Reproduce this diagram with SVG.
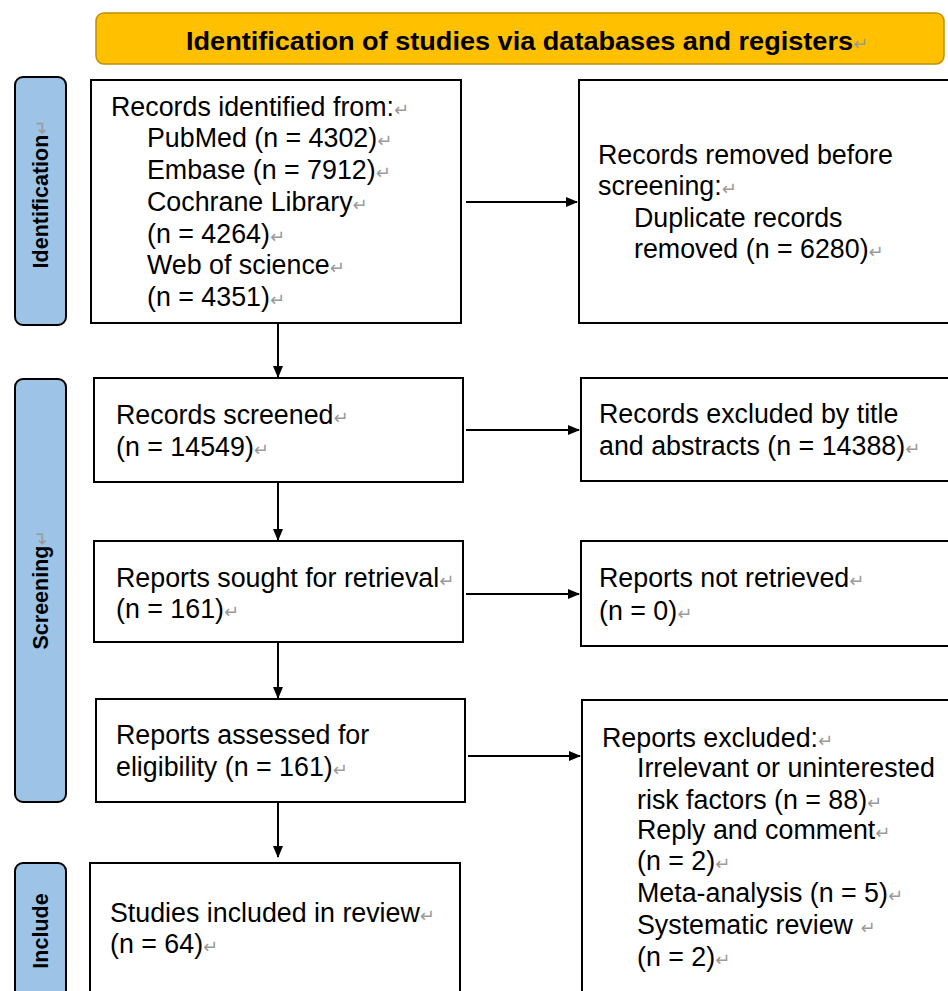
<svg xmlns="http://www.w3.org/2000/svg" width="948" height="991" viewBox="0 0 948 991">
<defs>
<marker id="ah" markerWidth="12" markerHeight="10" refX="11" refY="5" orient="auto" markerUnits="userSpaceOnUse">
<path d="M0,0 L12,5 L0,10 Z" fill="#000"/>
</marker>
<style>
.box{fill:#fff;stroke:#000;stroke-width:2}
.side{fill:#9DC3E6;stroke:#000;stroke-width:2}
.t{font-family:"Liberation Sans",Arial,sans-serif;font-size:26.8px;fill:#000}
.st{font-family:"Liberation Sans",Arial,sans-serif;font-size:21.5px;font-weight:bold;fill:#000}
.ht{font-family:"Liberation Sans",Arial,sans-serif;font-size:26px;font-weight:bold;fill:#000}
.pm{font-family:"DejaVu Sans",sans-serif;font-size:18px;fill:#9a9a9a;font-weight:normal}
.c{stroke:#000;stroke-width:2;fill:none;marker-end:url(#ah)}
</style>
</defs>
<rect width="948" height="991" fill="#fff"/>

<g id="header">
<rect x="96" y="13" width="848" height="51" rx="8" fill="#FFC000" stroke="#BF9000" stroke-width="1.5"/>
<text class="ht" x="186" y="50"><tspan textLength="667" lengthAdjust="spacingAndGlyphs">Identification of studies via databases and registers</tspan><tspan class="pm">↵</tspan></text>
</g>

<g id="side-identification">
<rect class="side" x="15" y="77" width="51" height="248" rx="8"/>
<text class="st" transform="translate(48,194) rotate(-90)" text-anchor="middle">Identification<tspan class="pm">↵</tspan></text>
</g>
<g id="side-screening">
<rect class="side" x="15" y="379" width="51" height="423" rx="8"/>
<text class="st" transform="translate(48,590) rotate(-90)" text-anchor="middle">Screening<tspan class="pm">↵</tspan></text>
</g>
<g id="side-include">
<rect class="side" x="15" y="863" width="51" height="140" rx="8"/>
<text class="st" transform="translate(48,931) rotate(-90)" text-anchor="middle">Include</text>
</g>

<g id="n-identified">
<rect class="box" x="91" y="80" width="370" height="243"/>
<text class="t"><tspan x="111" y="116">Records identified from:<tspan class="pm">↵</tspan></tspan><tspan x="147" y="147">PubMed (n = 4302)<tspan class="pm">↵</tspan></tspan><tspan x="147" y="179">Embase (n = 7912)<tspan class="pm">↵</tspan></tspan><tspan x="147" y="211">Cochrane Library<tspan class="pm">↵</tspan></tspan><tspan x="147" y="243">(n = 4264)<tspan class="pm">↵</tspan></tspan><tspan x="147" y="274">Web of science<tspan class="pm">↵</tspan></tspan><tspan x="147" y="306">(n = 4351)<tspan class="pm">↵</tspan></tspan></text>
</g>

<g id="n-removed">
<rect class="box" x="579" y="80" width="380" height="243"/>
<text class="t"><tspan x="598" y="164">Records removed before</tspan><tspan x="598" y="195">screening:<tspan class="pm">↵</tspan></tspan><tspan x="634" y="227">Duplicate records</tspan><tspan x="634" y="258">removed (n = 6280)<tspan class="pm">↵</tspan></tspan></text>
</g>

<g id="n-screened">
<rect class="box" x="94" y="378" width="369" height="104"/>
<text class="t"><tspan x="116" y="424">Records screened<tspan class="pm">↵</tspan></tspan><tspan x="116" y="456">(n = 14549)<tspan class="pm">↵</tspan></tspan></text>
</g>

<g id="n-excluded-title">
<rect class="box" x="581" y="378" width="378" height="103"/>
<text class="t"><tspan x="599" y="423">Records excluded by title</tspan><tspan x="599" y="455">and abstracts (n = 14388)<tspan class="pm">↵</tspan></tspan></text>
</g>

<g id="n-sought">
<rect class="box" x="94" y="541" width="369" height="101"/>
<text class="t"><tspan x="116" y="587">Reports sought for retrieval<tspan class="pm">↵</tspan></tspan><tspan x="116" y="618">(n = 161)<tspan class="pm">↵</tspan></tspan></text>
</g>

<g id="n-not-retrieved">
<rect class="box" x="581" y="541" width="378" height="105"/>
<text class="t"><tspan x="599" y="587">Reports not retrieved<tspan class="pm">↵</tspan></tspan><tspan x="599" y="620">(n = 0)<tspan class="pm">↵</tspan></tspan></text>
</g>

<g id="n-assessed">
<rect class="box" x="96" y="699" width="369" height="103"/>
<text class="t"><tspan x="116" y="744">Reports assessed for</tspan><tspan x="116" y="776">eligibility (n = 161)<tspan class="pm">↵</tspan></tspan></text>
</g>

<g id="n-reports-excluded">
<rect class="box" x="582" y="700" width="377" height="310"/>
<text class="t"><tspan x="602" y="747">Reports excluded:<tspan class="pm">↵</tspan></tspan><tspan x="637" y="777">Irrelevant or uninterested</tspan><tspan x="637" y="809">risk factors (n = 88)<tspan class="pm">↵</tspan></tspan><tspan x="637" y="839">Reply and comment<tspan class="pm">↵</tspan></tspan><tspan x="637" y="870">(n = 2)<tspan class="pm">↵</tspan></tspan><tspan x="637" y="902">Meta-analysis (n = 5)<tspan class="pm">↵</tspan></tspan><tspan x="637" y="934">Systematic review <tspan class="pm">↵</tspan></tspan><tspan x="637" y="966">(n = 2)<tspan class="pm">↵</tspan></tspan></text>
</g>

<g id="n-included">
<rect class="box" x="90" y="863" width="370" height="150"/>
<text class="t"><tspan x="110" y="922">Studies included in review<tspan class="pm">↵</tspan></tspan><tspan x="110" y="953">(n = 64)<tspan class="pm">↵</tspan></tspan></text>
</g>

<g id="connectors">
<line class="c" x1="466" y1="202" x2="577" y2="202"/>
<line class="c" x1="466" y1="430" x2="579" y2="430"/>
<line class="c" x1="466" y1="594" x2="579" y2="594"/>
<line class="c" x1="468" y1="756" x2="580" y2="756"/>
<line class="c" x1="278" y1="324" x2="278" y2="377"/>
<line class="c" x1="278" y1="483" x2="278" y2="540"/>
<line class="c" x1="278" y1="643" x2="278" y2="698"/>
<line class="c" x1="278" y1="803" x2="278" y2="857"/>
</g>
</svg>
